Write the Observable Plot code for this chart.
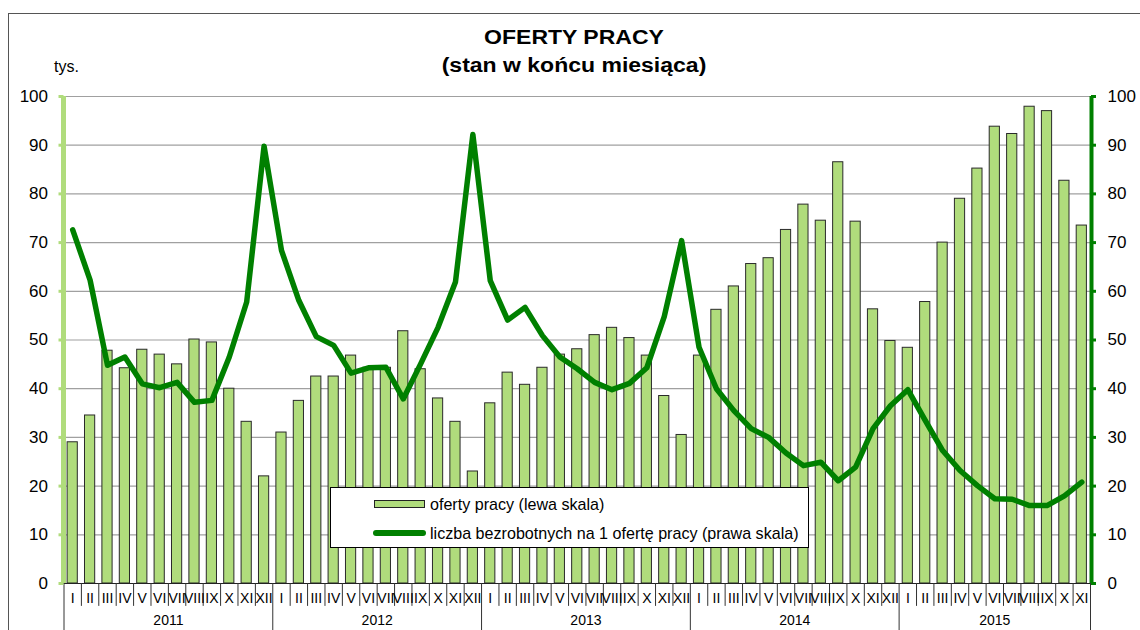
<!DOCTYPE html>
<html>
<head>
<meta charset="utf-8">
<script src="https://cdn.jsdelivr.net/npm/d3@7"></script>
<script src="https://cdn.jsdelivr.net/npm/@observablehq/plot@0.6"></script>
<style>
  html, body { margin: 0; padding: 0; background: #fff; }
  #wrap { position: relative; width: 1140px; height: 630px; overflow: hidden; font-family: "Liberation Sans", Arial, sans-serif; color: #000; }
  #chart { position: absolute; left: 0; top: 0; }
  #border { position: absolute; left: 8px; top: 13px; width: 1200px; height: 700px; border-left: 1.5px solid #555; border-top: 1.5px solid #555; pointer-events: none; }
  #title { position: absolute; left: 0; top: 23px; width: 1148px; text-align: center; font-weight: bold; font-size: 20px; line-height: 28px; transform: scaleX(1.15); transform-origin: 574px 0; }
  #unit { position: absolute; left: 54px; top: 59px; font-size: 16px; line-height: 16px; }
  #legend { position: absolute; left: 330px; top: 487px; width: 477px; height: 59px; border: 1px solid #000; background: #fff; font-size: 16.1px; }
  #legend .sw1 { position: absolute; left: 43px; top: 12px; width: 49px; height: 6px; background: #b0dc7c; border: 1px solid #222; }
  #legend .sw2 { position: absolute; left: 42px; top: 42px; width: 53px; height: 6px; background: #008000; border-radius: 3px; }
  #legend .t1 { position: absolute; left: 99px; top: 7.5px; line-height: 16px; white-space: nowrap; }
  #legend .t2 { position: absolute; left: 99px; top: 36.5px; line-height: 16px; white-space: nowrap; }
</style>
</head>
<body>
<div id="wrap">
  <div id="chart"></div>
  <div id="border"></div>
  <div id="title">OFERTY PRACY<br>(stan w końcu miesiąca)</div>
  <div id="unit">tys.</div>
  <div id="legend">
    <div class="sw1"></div><div class="t1">oferty pracy (lewa skala)</div>
    <div class="sw2"></div><div class="t2">liczba bezrobotnych na 1 ofertę pracy (prawa skala)</div>
  </div>
</div>
<script>
const monthLabels = ["I","II","III","IV","V","VI","VII","VIII","IX","X","XI","XII"];
const yearLabels = ["2011","2012","2013","2014","2015"];
const monthsPerYear = [12, 12, 12, 12, 11];

// oferty pracy (tys.) — left scale
const offers = [
  29, 34.5, 47.8, 44.2, 48, 47, 45, 50.1, 49.5, 40, 33.2, 22,
  31, 37.5, 42.5, 42.5, 46.8, 44.3, 44.3, 51.8, 44, 38, 33.2, 23,
  37, 43.3, 40.8, 44.3, 47, 48.1, 51, 52.5, 50.4, 46.8, 38.5, 30.5,
  46.8, 56.2, 61, 65.6, 66.8, 72.6, 77.8, 74.5, 86.5, 74.3, 56.3, 49.8,
  48.4, 57.8, 70, 79, 85.2, 93.8, 92.3, 97.9, 97, 82.7, 73.5
];
// liczba bezrobotnych na 1 ofertę pracy — right scale
const ratio = [
  72.6, 62.3, 44.8, 46.5, 41, 40.2, 41.3, 37.2, 37.6, 46.5, 57.8, 89.8,
  68.4, 58.1, 50.7, 48.9, 43.2, 44.3, 44.4, 37.9, 45.1, 52.6, 61.9, 92.2,
  62.2, 54.1, 56.7, 50.9, 46.5, 44.1, 41.3, 39.8, 41.1, 44.3, 54.8, 70.4,
  48.5, 40, 35.5, 31.8, 30, 26.8, 24.2, 24.9, 21.1, 23.9, 31.8, 36.5,
  39.8, 33.5, 27.3, 23.2, 20.1, 17.4, 17.3, 16, 16, 18, 20.8
];
const yTicks = [0, 10, 20, 30, 40, 50, 60, 70, 80, 90, 100];

const data = offers.map((v, i) => ({
  i,
  month: monthLabels[i % 12],
  offers: v,
  ratio: ratio[i]
}));

// year groups
const years = [];
let start = 0;
yearLabels.forEach((y, k) => {
  const n = monthsPerYear[k];
  years.push({year: y, start: start - 0.5, end: start + n - 0.5, mid: start + (n - 1) / 2});
  start += n;
});
const monthSeps = data.map(d => d.i + 0.5).filter(x => !years.some(y => Math.abs(y.end - x) < 1e-9));
const yearSeps = [years[0].start, ...years.map(y => y.end)];

const LG = "#b0dc7c";
const DG = "#008000";

const chart = Plot.plot({
  width: 1140,
  height: 630,
  marginLeft: 63.5,
  marginRight: 50,
  marginTop: 96,
  marginBottom: 47,
  style: {fontFamily: "Liberation Sans, Arial, sans-serif", background: "transparent", color: "#000"},
  x: {type: "linear", domain: [-0.5, data.length - 0.5], axis: null},
  y: {domain: [0, 100], axis: null},
  marks: [
    Plot.gridY(yTicks.filter(t => t > 0), {stroke: "#a0a0a0", strokeOpacity: 1, strokeWidth: 1.2}),
    Plot.rectY(data, {x1: d => d.i - 0.5, x2: d => d.i + 0.5, y: "offers", insetLeft: 3.6, insetRight: 3.6, fill: LG, stroke: "#2a2a2a", strokeWidth: 1}),
    Plot.lineY(data, {x: "i", y: "ratio", stroke: DG, strokeWidth: 5.5, strokeLinejoin: "round", strokeLinecap: "round"}),
    // bottom category axis
    Plot.ruleY([0], {stroke: "#222", strokeWidth: 1}),
    Plot.ruleX(monthSeps, {y1: 0, y2: -4.7, stroke: "#333", strokeWidth: 1}),
    Plot.ruleX(yearSeps, {y1: 0, y2: -10, stroke: "#333", strokeWidth: 1}),
    Plot.text(data, {x: "i", y: -3, text: "month", fontSize: 14, fill: "#000"}),
    Plot.text(years, {x: "mid", y: -7.6, text: "year", fontSize: 14, fill: "#000"}),
    // left axis
    Plot.ruleX([-0.5], {y1: 0, y2: 100, stroke: LG, strokeWidth: 5, dx: -0.5}),
    Plot.axisY({anchor: "left", ticks: yTicks, tickSize: 5, tickPadding: 11, stroke: LG, strokeWidth: 3, fill: "#000", fontSize: 17, tickFormat: d => String(d)}),
    // right axis
    Plot.ruleX([data.length - 0.5], {y1: 0, y2: 100, stroke: DG, strokeWidth: 4, dx: 1}),
    Plot.axisY({anchor: "right", ticks: yTicks, tickSize: 5, tickPadding: 12, stroke: DG, strokeWidth: 3, fill: "#000", fontSize: 17, tickFormat: d => String(d)})
  ]
});
document.getElementById("chart").appendChild(chart);
</script>
</body>
</html>
